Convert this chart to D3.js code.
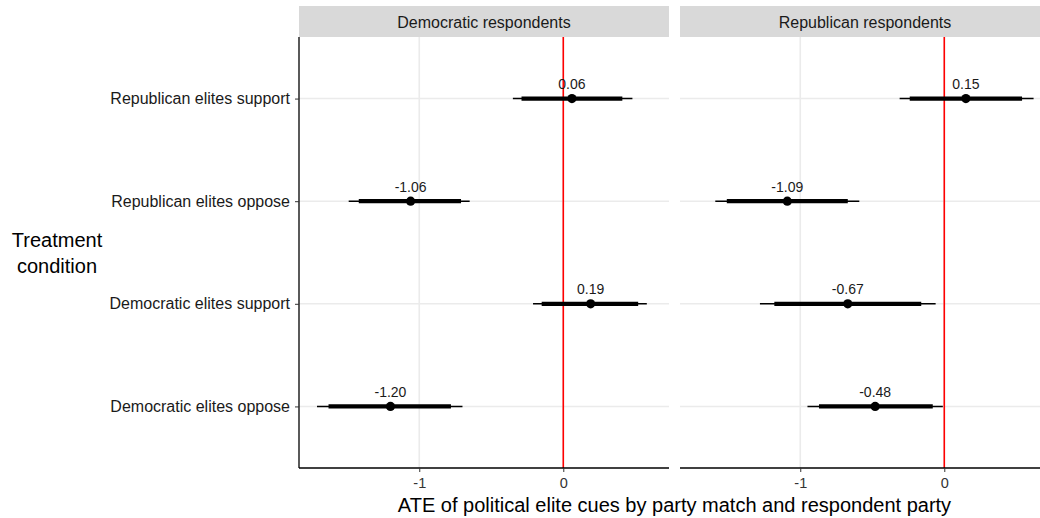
<!DOCTYPE html>
<html>
<head>
<meta charset="utf-8">
<script src="https://cdn.jsdelivr.net/npm/d3@7"></script>
<style>
  body { margin: 0; background: #fff; }
  svg { display: block; font-family: 'Liberation Sans', Arial, sans-serif; }
</style>
</head>
<body>
<div id="chart"></div>
<script>
// facets, rows and values
const panels = ['Democratic respondents', 'Republican respondents'];
const conditions = [
  'Republican elites support',
  'Republican elites oppose',
  'Democratic elites support',
  'Democratic elites oppose'
];
const xTicks = [-1, 0];

// Democratic respondents
const demEst  = [0.06, -1.06, 0.19, -1.20];
const demLo95 = [-0.35, -1.49, -0.21, -1.71];
const demHi95 = [0.48, -0.65, 0.58, -0.70];
const demLo90 = [-0.29, -1.42, -0.15, -1.63];
const demHi90 = [0.41, -0.71, 0.52, -0.78];

// Republican respondents
const repEst  = [0.15, -1.09, -0.67, -0.48];
const repLo95 = [-0.31, -1.59, -1.28, -0.95];
const repHi95 = [0.62, -0.59, -0.06, -0.01];
const repLo90 = [-0.24, -1.51, -1.18, -0.87];
const repHi90 = [0.54, -0.67, -0.16, -0.08];

const series = [
  {est: demEst, lo95: demLo95, hi95: demHi95, lo90: demLo90, hi90: demHi90},
  {est: repEst, lo95: repLo95, hi95: repHi95, lo90: repLo90, hi90: repHi90}
];

const width = 1040;
const height = 518;
const panelW = 370;
const panelX = [299, 680];
const plotTop = 37;
const plotBottom = 468;
const stripTop = 6;

const svg = d3.select('#chart')
  .append('svg')
  .attr('width', width)
  .attr('height', height);

const x = d3.scaleLinear()
  .domain([-1.835, 0.734])
  .range([0, panelW]);

const y = d3.scalePoint()
  .domain(conditions)
  .range([plotTop, plotBottom])
  .padding(0.6);

panels.forEach((name, i) => {
  const s = series[i];
  const g = svg.append('g')
    .attr('transform', `translate(${panelX[i]},0)`);

  // strip
  g.append('rect')
    .attr('x', 0)
    .attr('y', stripTop)
    .attr('width', panelW)
    .attr('height', plotTop - stripTop)
    .attr('fill', '#d9d9d9');
  g.append('text')
    .attr('x', panelW / 2)
    .attr('y', 27.5)
    .attr('text-anchor', 'middle')
    .attr('font-size', 16)
    .attr('fill', '#1a1a1a')
    .text(name);

  // grid
  g.selectAll('.hgrid')
    .data(conditions)
    .enter().append('line')
      .attr('x1', 0)
      .attr('x2', panelW)
      .attr('y1', d => y(d))
      .attr('y2', d => y(d))
      .attr('stroke', '#ebebeb')
      .attr('stroke-width', 1.6);
  g.selectAll('.vgrid')
    .data(xTicks)
    .enter().append('line')
      .attr('x1', d => x(d))
      .attr('x2', d => x(d))
      .attr('y1', plotTop)
      .attr('y2', plotBottom)
      .attr('stroke', '#ebebeb')
      .attr('stroke-width', 1.6);

  // reference line at zero
  g.append('line')
    .attr('x1', x(0))
    .attr('x2', x(0))
    .attr('y1', plotTop)
    .attr('y2', plotBottom)
    .attr('stroke', 'red')
    .attr('stroke-width', 1.6);

  // x axis
  const xAxis = g.append('g')
    .attr('transform', `translate(0,${plotBottom})`)
    .call(d3.axisBottom(x).tickValues(xTicks).tickFormat(d => String(d)).tickSize(4).tickPadding(6));
  xAxis.select('.domain')
    .attr('d', `M0,0H${panelW}`)
    .attr('stroke', '#000')
    .attr('stroke-width', 1.3);
  xAxis.selectAll('.tick line').attr('stroke', '#333');
  xAxis.selectAll('.tick text')
    .attr('font-size', 14.5)
    .attr('fill', '#333')
    .attr('font-family', null);

  // intervals
  const rows = g.selectAll('.row')
    .data(conditions)
    .enter().append('g');
  rows.append('line')
    .attr('x1', (d, j) => x(s.lo95[j]))
    .attr('x2', (d, j) => x(s.hi95[j]))
    .attr('y1', d => y(d))
    .attr('y2', d => y(d))
    .attr('stroke', '#000')
    .attr('stroke-width', 1.6);
  rows.append('line')
    .attr('x1', (d, j) => x(s.lo90[j]))
    .attr('x2', (d, j) => x(s.hi90[j]))
    .attr('y1', d => y(d))
    .attr('y2', d => y(d))
    .attr('stroke', '#000')
    .attr('stroke-width', 4.2);
  rows.append('circle')
    .attr('cx', (d, j) => x(s.est[j]))
    .attr('cy', d => y(d))
    .attr('r', 4.6)
    .attr('fill', '#000');
  rows.append('text')
    .attr('x', (d, j) => x(s.est[j]))
    .attr('y', d => y(d) - 9.5)
    .attr('text-anchor', 'middle')
    .attr('font-size', 14)
    .attr('fill', '#1a1a1a')
    .text((d, j) => s.est[j].toFixed(2));
});

// y axis (left panel only)
const yAxis = svg.append('g')
  .attr('transform', `translate(${panelX[0]},0)`)
  .call(d3.axisLeft(y).tickSize(4).tickPadding(5));
yAxis.select('.domain')
  .attr('d', `M0,${plotTop}V${plotBottom}`)
  .attr('stroke', '#000')
  .attr('stroke-width', 1.3);
yAxis.selectAll('.tick line').attr('stroke', '#333');
yAxis.selectAll('.tick text')
  .attr('font-size', 16)
  .attr('fill', '#1a1a1a')
  .attr('font-family', null);

// axis titles
svg.append('text')
  .attr('x', panelX[0] + (panelX[1] + panelW - panelX[0]) / 2)
  .attr('y', 512)
  .attr('text-anchor', 'middle')
  .attr('font-size', 20)
  .attr('fill', '#000')
  .text('ATE of political elite cues by party match and respondent party');

const yTitle = svg.append('text')
  .attr('text-anchor', 'middle')
  .attr('font-size', 20)
  .attr('fill', '#000');
yTitle.append('tspan').attr('x', 57).attr('y', 247).text('Treatment');
yTitle.append('tspan').attr('x', 57).attr('y', 273).text('condition');
</script>
</body>
</html>
